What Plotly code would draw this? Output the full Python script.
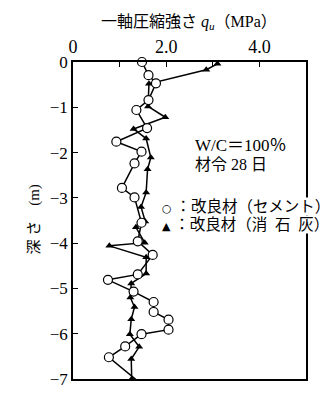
import plotly.graph_objects as go

# --- data ---
depth_cement = [0.0, -0.29, -0.47, -0.84, -1.06, -1.46, -1.76, -1.98, -2.24, -2.78,
                -2.99, -3.55, -3.96, -4.26, -4.69, -4.81, -5.07, -5.30, -5.52, -5.69,
                -5.91, -6.01, -6.28, -6.52, -7.02]
qu_cement = [1.48, 1.62, 1.78, 1.62, 1.36, 1.59, 0.93, 1.47, 1.32, 1.05,
             1.32, 1.47, 1.39, 1.71, 1.39, 0.75, 1.30, 1.73, 1.73, 2.05,
             2.05, 1.47, 1.12, 0.77, 1.36]

depth_lime = [-0.04, -0.17, -0.48, -0.98, -1.22, -1.48, -1.69, -2.11, -2.37, -2.88,
              -3.20, -3.52, -3.65, -3.99, -4.06, -4.31, -4.67, -4.89, -5.20, -5.41,
              -5.68, -6.01, -6.29, -6.56, -7.00]
qu_lime = [3.10, 2.86, 1.63, 1.61, 1.98, 1.30, 1.57, 1.67, 1.60, 1.57,
           1.46, 1.55, 1.35, 1.54, 0.78, 1.57, 1.57, 1.25, 1.23, 1.32,
           1.25, 1.22, 1.42, 1.25, 1.26]

x_tickvals = [0, 2, 4]
x_ticktext = ["0", "2.0", "4.0"]
y_tickvals = [0, -1, -2, -3, -4, -5, -6, -7]

SERIF = "Liberation Serif, Noto Sans CJK JP"

fig = go.Figure()
fig.add_trace(go.Scatter(
    x=qu_lime, y=depth_lime, mode="lines+markers",
    line=dict(color="black", width=1.5),
    marker=dict(symbol="triangle-up", size=7, color="black"),
    cliponaxis=False, showlegend=False,
))
fig.add_trace(go.Scatter(
    x=qu_cement, y=depth_cement, mode="lines+markers",
    line=dict(color="black", width=1.5),
    marker=dict(symbol="circle", size=9, color="white",
                line=dict(color="black", width=1.2)),
    cliponaxis=False, showlegend=False,
))

L, R, T, B = 72.5, 23, 62, 10
W, H = 329, 399
pw, ph = W - L - R, H - T - B

def px(xp):  # page x pixel -> paper
    return (xp - L) / pw

def py(yp):  # page y pixel -> paper
    return 1 - (yp - T) / ph

fig.update_layout(
    width=W, height=H,
    margin=dict(l=L, r=R, t=T, b=B, pad=0),
    paper_bgcolor="white", plot_bgcolor="white",
    font=dict(family=SERIF, color="black", size=16),
    xaxis=dict(
        range=[0, 5], side="top", tickvals=x_tickvals, ticktext=x_ticktext,
        ticks="inside", ticklen=5, tickwidth=1.2, tickcolor="black",
        minor=dict(dtick=1, tick0=0, ticks="inside", ticklen=5, tickwidth=1.2,
                   tickcolor="black", showgrid=False),
        showline=True, linecolor="black", linewidth=1.5, mirror=True,
        showgrid=False, zeroline=False,
        tickfont=dict(family="Liberation Serif", size=18),
    ),
    yaxis=dict(
        range=[-7, 0], tickvals=y_tickvals,
        ticks="inside", ticklen=5, tickwidth=1.2, tickcolor="black",
        showline=True, linecolor="black", linewidth=1.5, mirror=True,
        showgrid=False, zeroline=False,
        tickfont=dict(family="Liberation Serif", size=17),
    ),
)

annos = [
    dict(text="一軸圧縮強さ <i>q</i><sub><i>u</i></sub>（MPa）", x=px(189), y=py(21),
         xanchor="center", yanchor="middle", font=dict(size=16)),
    dict(text="深 さ\u3000(m)", x=px(33), y=py(225), textangle=-90,
         xanchor="center", yanchor="middle", font=dict(size=15)),
    dict(text="W/C＝100％", x=px(193), y=py(148), xanchor="left", yanchor="middle",
         font=dict(size=17)),
    dict(text="材令 28 日", x=px(193), y=py(168), xanchor="left", yanchor="middle",
         font=dict(size=16)),
    dict(text='<span style="font-family:DejaVu Sans;font-size:11px">○</span> ：改良材（セメント）',
         x=px(161), y=py(211), xanchor="left", yanchor="middle",
         font=dict(size=15.5), bgcolor="white", borderpad=0),
    dict(text='<span style="font-family:DejaVu Sans;font-size:11px">▲</span> ：改良材（消\u2002石\u2002灰）',
         x=px(161), y=py(230), xanchor="left", yanchor="middle",
         font=dict(size=15.5), bgcolor="white", borderpad=0),
]
for a in annos:
    a.setdefault("xref", "paper")
    a.setdefault("yref", "paper")
    a["showarrow"] = False
    fig.add_annotation(**a)

fig.write_html(
    "out.html",
    config={"displayModeBar": False},
    post_script=(
        "document.documentElement.style.overflow='hidden';"
        "document.body.style.margin='0';document.body.style.overflow='hidden';"
        "document.querySelectorAll('svg').forEach(function(s){s.style.overflow='hidden';});"
    ),
)
